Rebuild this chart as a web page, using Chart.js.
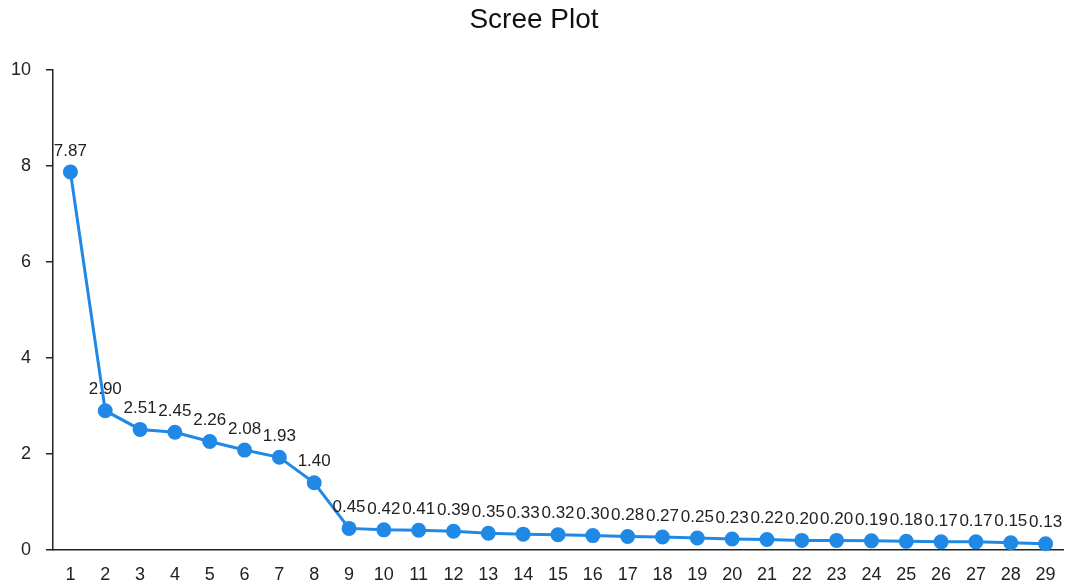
<!DOCTYPE html>
<html>
<head>
<meta charset="utf-8">
<script src="https://cdn.jsdelivr.net/npm/chart.js@4"></script>
<style>
  html, body { margin: 0; padding: 0; background: #fff; }
  #wrap { width: 1072px; height: 585px; }
</style>
</head>
<body>
<div id="wrap"><canvas id="chart"></canvas></div>
<script>
const components = ['1', '2', '3', '4', '5', '6', '7', '8', '9', '10', '11', '12', '13', '14', '15',
  '16', '17', '18', '19', '20', '21', '22', '23', '24', '25', '26', '27', '28', '29'];
const eigenvalues = [7.87, 2.90, 2.51, 2.45, 2.26, 2.08, 1.93, 1.40, 0.45, 0.42, 0.41, 0.39, 0.35, 0.33,
  0.32, 0.30, 0.28, 0.27, 0.25, 0.23, 0.22, 0.20, 0.20, 0.19, 0.18, 0.17, 0.17, 0.15, 0.13];
const yTicks = [0, 2, 4, 6, 8, 10];

const FONT = '"Liberation Sans", Arial, sans-serif';
const BLUE = '#2089e6';

// draws the value above each point
const pointLabels = {
  id: 'pointLabels',
  afterDatasetsDraw(chart) {
    const ctx = chart.ctx;
    const meta = chart.getDatasetMeta(0);
    ctx.save();
    ctx.font = '17px ' + FONT;
    ctx.fillStyle = '#222';
    ctx.textAlign = 'center';
    ctx.textBaseline = 'middle';
    meta.data.forEach((pt, i) => {
      ctx.fillText(eigenvalues[i].toFixed(2), pt.x, pt.y - 21);
    });
    ctx.restore();
  },
};

const config = {
  type: 'line',
  data: {
    labels: components,
    datasets: [
      {
        data: eigenvalues,
        borderColor: BLUE,
        backgroundColor: BLUE,
        borderWidth: 3,
        pointRadius: 6,
        pointHoverRadius: 6,
        tension: 0,
        clip: false,
      },
    ],
  },
  options: {
    responsive: true,
    maintainAspectRatio: false,
    animation: false,
    layout: { padding: { left: 0, right: 4, top: 0, bottom: 0 } },
    plugins: {
      legend: { display: false },
      tooltip: { enabled: false },
      title: {
        display: true,
        text: 'Scree Plot',
        color: '#111',
        font: { size: 28, family: FONT, weight: 'normal' },
        padding: { top: 3, bottom: 33 },
      },
    },
    scales: {
      x: {
        type: 'category',
        offset: true,
        grid: { display: true, drawOnChartArea: false, drawTicks: false },
        border: { display: true, color: '#222', width: 1.5 },
        ticks: { color: '#222', padding: 14, maxRotation: 0, autoSkip: false, font: { size: 18, family: FONT } },
        afterFit(scale) { scale.height = 35; },
      },
      y: {
        min: 0,
        max: 10,
        afterBuildTicks(scale) { scale.ticks = yTicks.map((v) => ({ value: v })); },
        grid: { display: true, drawOnChartArea: false, drawTicks: true, tickLength: 7, color: '#222', lineWidth: 1.5 },
        border: { display: true, color: '#222', width: 1.5 },
        ticks: { color: '#222', padding: 15, font: { size: 18, family: FONT } },
        afterFit(scale) { scale.width = 53; },
      },
    },
  },
  plugins: [pointLabels],
};

new Chart(document.getElementById('chart'), config);
</script>
</body>
</html>
